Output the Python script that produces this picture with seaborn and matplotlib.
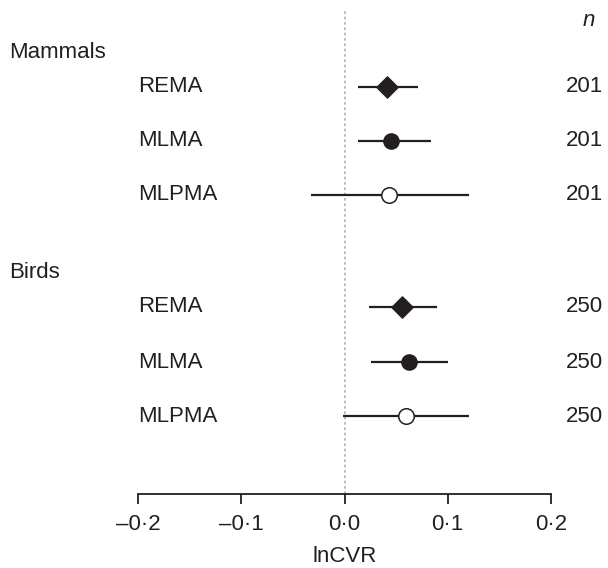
import matplotlib
matplotlib.use('Agg')
import matplotlib.pyplot as plt
import matplotlib.transforms as mtransforms
import seaborn as sns
import pandas as pd

# === data ===
groups = ['Mammals', 'Birds']
methods = ['REMA', 'MLMA', 'MLPMA']
estimate = [0.041, 0.045, 0.043, 0.056, 0.062, 0.060]
ci_low = [0.013, 0.013, -0.032, 0.024, 0.026, -0.001]
ci_high = [0.071, 0.084, 0.121, 0.090, 0.100, 0.121]
n_values = [201, 201, 201, 250, 250, 250]
xticks = [-0.2, -0.1, 0.0, 0.1, 0.2]
xticklabels = ['\u20130\u00b72', '\u20130\u00b71', '0\u00b70', '0\u00b71', '0\u00b72']

df = pd.DataFrame({
    'group': [g for g in groups for _ in methods],
    'method': methods * len(groups),
    'est': estimate, 'lo': ci_low, 'hi': ci_high, 'n': n_values,
})

# layout: vertical row positions (pixel-like, top = small values)
row_y = [87, 141, 195, 307, 362, 416]
header_y = [52, 273]
df['y'] = row_y

sns.set_style('white')
plt.rcParams['font.family'] = ['Liberation Sans', 'DejaVu Sans']
fs = 16
ink = '#231f20'

fig = plt.figure(figsize=(6.08, 5.68), dpi=100)
ax = fig.add_axes([138 / 608, 1 - 494 / 568, 413 / 608, 484 / 568])
ax.set_xlim(-0.2, 0.2)
ax.set_ylim(494, 10)

# reference line at zero
ax.axvline(0, color='#b0b0b0', linestyle=(0, (1.6, 1.6)), linewidth=1.2, zorder=0)
ax.hlines(df['y'], df['lo'], df['hi'], color=ink, linewidth=1.6)

marker_map = {'REMA': 'D', 'MLMA': 'o', 'MLPMA': 'o'}
face = {'REMA': ink, 'MLMA': ink, 'MLPMA': 'white'}
size = {'REMA': 115, 'MLMA': 118, 'MLPMA': 125}
for m in methods:
    sub = df[df['method'] == m]
    sns.scatterplot(data=sub, x='est', y='y', marker=marker_map[m], s=size[m],
                    color=face[m], edgecolor=ink, linewidth=1.1,
                    ax=ax, zorder=3, legend=False)

for s in ['top', 'right', 'left']:
    ax.spines[s].set_visible(False)
ax.spines['bottom'].set_linewidth(1.3)
ax.spines['bottom'].set_color(ink)
ax.set_yticks([])
ax.set_xticks(xticks)
ax.set_xticklabels(xticklabels, fontsize=fs, color=ink)
ax.tick_params(axis='x', direction='out', length=7.5, width=1.3, color=ink,
               pad=7, bottom=True)
ax.set_xlabel('lnCVR', fontsize=fs, labelpad=8, color=ink)
ax.set_ylabel('')

# row labels, group headers and sample sizes
trans = ax.get_yaxis_transform()
head_trans = mtransforms.blended_transform_factory(fig.transFigure, ax.transData)
for g, hy in zip(groups, header_y):
    fig.text(9 / 608, hy, g, fontsize=fs, va='center', ha='left', color=ink,
             transform=head_trans)
for _, r in df.iterrows():
    ax.text(0.0, r['y'], r['method'], transform=trans, fontsize=fs, va='center',
            ha='left', color=ink)
    ax.text(1.126, r['y'], str(r['n']), transform=trans, fontsize=fs, va='center',
            ha='right', clip_on=False, color=ink)
ax.text(1.092, 20, 'n', transform=trans, fontsize=fs, style='italic', va='center',
        ha='center', clip_on=False, color=ink)

fig.savefig('out.png', dpi=100)
